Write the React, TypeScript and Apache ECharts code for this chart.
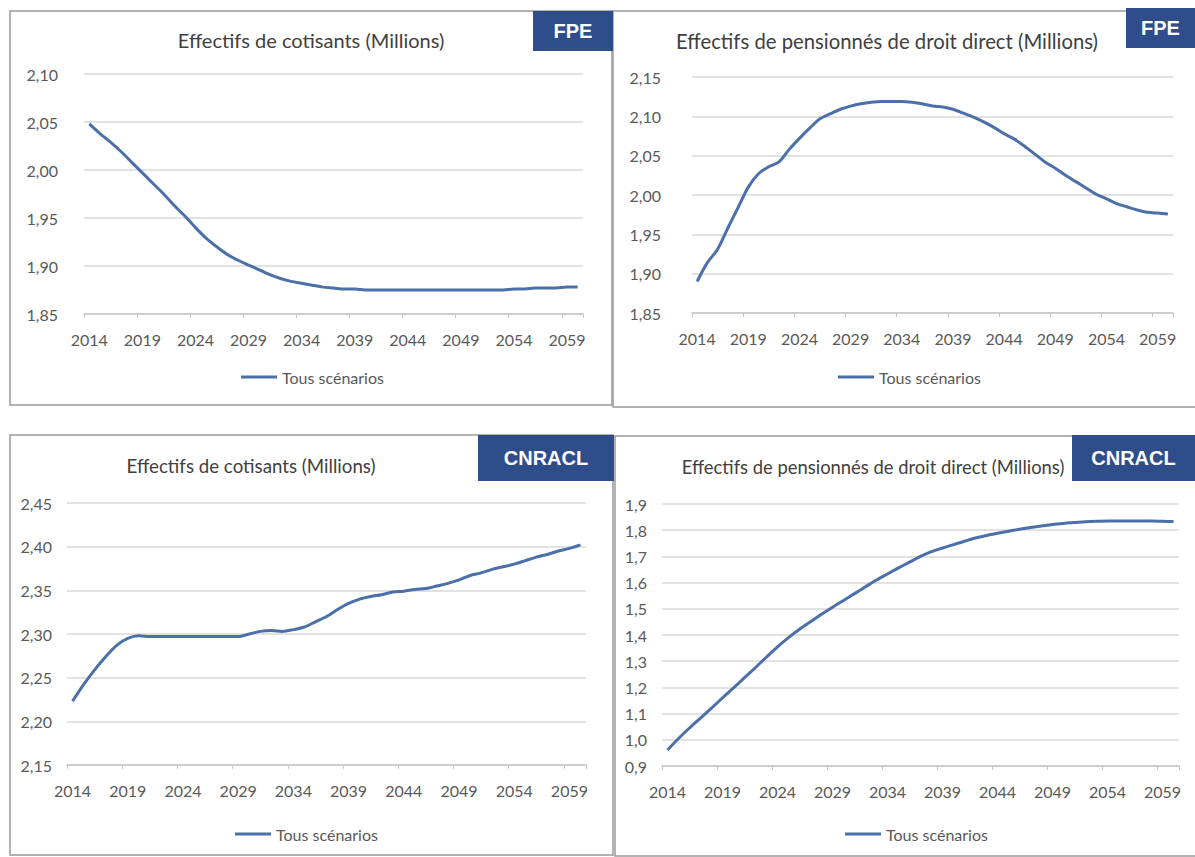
import { useEffect, useRef } from 'react';
import * as echarts from 'echarts';

const years: string[] = [
  '2014','2015','2016','2017','2018','2019','2020','2021','2022','2023',
  '2024','2025','2026','2027','2028','2029','2030','2031','2032','2033',
  '2034','2035','2036','2037','2038','2039','2040','2041','2042','2043',
  '2044','2045','2046','2047','2048','2049','2050','2051','2052','2053',
  '2054','2055','2056','2057','2058','2059','2060',
];

const seriesName = 'Tous scénarios';

const titles = [
  'Effectifs de cotisants (Millions)',
  'Effectifs de pensionnés de droit direct (Millions)',
  'Effectifs de cotisants (Millions)',
  'Effectifs de pensionnés de droit direct (Millions)',
];
const badges = ['FPE', 'FPE', 'CNRACL', 'CNRACL'];

// FPE – cotisants
const fpeCotisants: number[] = [
  2.048, 2.038, 2.029, 2.019, 2.008, 1.997, 1.986, 1.975, 1.963, 1.952,
  1.940, 1.929, 1.920, 1.912, 1.906, 1.901, 1.896, 1.891, 1.887, 1.884,
  1.882, 1.880, 1.878, 1.877, 1.876, 1.876, 1.875, 1.875, 1.875, 1.875,
  1.875, 1.875, 1.875, 1.875, 1.875, 1.875, 1.875, 1.875, 1.875, 1.875,
  1.876, 1.876, 1.877, 1.877, 1.877, 1.878, 1.878,
];

// FPE – pensionnés de droit direct
const fpePensionnes: number[] = [
  1.890, 1.914, 1.931, 1.958, 1.984, 2.010, 2.027, 2.036, 2.042, 2.058,
  2.072, 2.085, 2.097, 2.103, 2.109, 2.113, 2.116, 2.118, 2.119, 2.119,
  2.119, 2.118, 2.116, 2.113, 2.112, 2.109, 2.104, 2.099, 2.093, 2.086,
  2.078, 2.071, 2.062, 2.052, 2.042, 2.034, 2.025, 2.017, 2.009, 2.001,
  1.995, 1.989, 1.985, 1.981, 1.978, 1.977, 1.976,
];

// CNRACL – cotisants
const cnraclCotisants: number[] = [
  2.223, 2.242, 2.259, 2.274, 2.287, 2.295, 2.298, 2.297, 2.297, 2.297,
  2.297, 2.297, 2.297, 2.297, 2.297, 2.297, 2.300, 2.303, 2.304, 2.303,
  2.305, 2.308, 2.314, 2.320, 2.328, 2.335, 2.340, 2.343, 2.345, 2.348,
  2.349, 2.351, 2.352, 2.355, 2.358, 2.362, 2.367, 2.370, 2.374, 2.377,
  2.380, 2.384, 2.388, 2.391, 2.395, 2.398, 2.402,
];

// CNRACL – pensionnés de droit direct
const cnraclPensionnes: number[] = [
  0.961, 1.005, 1.045, 1.083, 1.121, 1.160, 1.198, 1.237, 1.276, 1.316,
  1.355, 1.390, 1.422, 1.451, 1.479, 1.506, 1.532, 1.558, 1.584, 1.610,
  1.633, 1.656, 1.678, 1.700, 1.718, 1.732, 1.745, 1.758, 1.770, 1.780,
  1.788, 1.796, 1.804, 1.810, 1.816, 1.822, 1.826, 1.829, 1.832, 1.834,
  1.835, 1.835, 1.835, 1.835, 1.835, 1.834, 1.833,
];

const yMin = [1.85, 1.85, 2.15, 0.9];
const yMax = [2.10, 2.15, 2.45, 1.9];
const yStep = [0.05, 0.05, 0.05, 0.1];
const yDecimals = [2, 2, 2, 1];

const FONT = 'Lato, "Open Sans", sans-serif';
const LINE_COLOR = '#4b6fa8';
const BADGE_COLOR = '#2f4d8a';

export default function App() {
  const ref = useRef<HTMLDivElement>(null);

  useEffect(() => {
    if (!ref.current) return;
    const chart = echarts.init(ref.current, undefined, { renderer: 'svg' });

    const grids = [
      { left: 84, top: 74, width: 499, height: 240 },
      { left: 692, top: 77, width: 481, height: 236 },
      { left: 67, top: 503, width: 519, height: 262 },
      { left: 662, top: 504, width: 517, height: 262 },
    ];
    const dataSets = [fpeCotisants, fpePensionnes, cnraclCotisants, cnraclPensionnes];
    const legendPos = [
      { left: 241, top: 369 },
      { left: 838, top: 369 },
      { left: 235, top: 826 },
      { left: 845, top: 826 },
    ];
    const panels = [
      { x: 10, y: 11, w: 602, h: 394 },
      { x: 613, y: 11, w: 600, h: 396 },
      { x: 10, y: 435, w: 603, h: 420 },
      { x: 615, y: 436, w: 600, h: 420 },
    ];
    const badgeBoxes = [
      { x: 533, y: 11, w: 80, h: 40, fs: 20 },
      { x: 1126, y: 8, w: 69, h: 40, fs: 20 },
      { x: 478, y: 435, w: 136, h: 46, fs: 20 },
      { x: 1072, y: 435, w: 123, h: 46, fs: 20 },
    ];
    const titlePos = [
      { x: 311, y: 40, fs: 20 },
      { x: 887, y: 41, fs: 20.3 },
      { x: 251, y: 466, fs: 18.7 },
      { x: 873, y: 467, fs: 18.4 },
    ];

    const graphic: any[] = [];
    panels.forEach((p) => {
      graphic.push({
        type: 'rect',
        shape: { x: p.x, y: p.y, width: p.w, height: p.h },
        style: { fill: 'none', stroke: '#9a9a9a', lineWidth: 1.5 },
        silent: true,
      });
    });
    titlePos.forEach((t, i) => {
      graphic.push({
        type: 'text',
        x: t.x,
        y: t.y,
        style: {
          text: titles[i],
          fill: '#404040',
          font: `${t.fs}px ${FONT}`,
          align: 'center',
          verticalAlign: 'middle',
          textAlign: 'center',
          textVerticalAlign: 'middle',
        },
        silent: true,
      });
    });
    badgeBoxes.forEach((b, i) => {
      graphic.push({
        type: 'rect',
        shape: { x: b.x, y: b.y, width: b.w, height: b.h },
        style: { fill: BADGE_COLOR },
        silent: true,
      });
      graphic.push({
        type: 'text',
        x: b.x + b.w / 2,
        y: b.y + b.h / 2,
        style: {
          text: badges[i],
          fill: '#ffffff',
          font: `bold ${b.fs}px "Liberation Sans", Arial, sans-serif`,
          align: 'center',
          verticalAlign: 'middle',
          textAlign: 'center',
          textVerticalAlign: 'middle',
        },
        silent: true,
      });
    });

    const option: any = {
      animation: false,
      backgroundColor: '#ffffff',
      grid: grids.map((g) => ({ ...g, containLabel: false })),
      xAxis: grids.map((_, i) => ({
        type: 'category',
        gridIndex: i,
        data: years,
        boundaryGap: true,
        axisLine: { show: true, lineStyle: { color: '#c6c6c6', width: 1.5 } },
        axisTick: { show: true, interval: 4, length: 4, inside: false, lineStyle: { color: '#c6c6c6' } },
        axisLabel: {
          interval: 4,
          margin: 17,
          color: '#595959',
          fontSize: 16,
          fontFamily: FONT,
        },
        splitLine: { show: false },
      })),
      yAxis: grids.map((_, i) => ({
        type: 'value',
        gridIndex: i,
        min: yMin[i],
        max: yMax[i],
        interval: yStep[i],
        axisLine: { show: false },
        axisTick: { show: false },
        axisLabel: {
          margin: i === 0 ? 26 : i === 1 ? 31 : 15,
          color: '#595959',
          fontSize: 16,
          fontFamily: FONT,
          formatter: (v: number) => v.toFixed(yDecimals[i]).replace('.', ','),
        },
        splitLine: { show: true, lineStyle: { color: '#d9d9d9', width: 1.5 } },
      })),
      legend: legendPos.map((l) => ({
        left: l.left,
        top: l.top,
        padding: 0,
        data: [{ name: seriesName, icon: 'rect' }],
        itemWidth: 36,
        itemHeight: 3,
        itemGap: 5,
        selectedMode: false,
        textStyle: { color: '#595959', fontSize: 16, fontFamily: FONT },
      })),
      series: dataSets.map((d, i) => ({
        name: seriesName,
        type: 'line',
        xAxisIndex: i,
        yAxisIndex: i,
        data: d,
        showSymbol: false,
        symbol: 'none',
        smooth: 0.3,
        lineStyle: { color: LINE_COLOR, width: 3 },
        itemStyle: { color: LINE_COLOR },
      })),
      graphic,
    };

    chart.setOption(option);
    return () => {
      chart.dispose();
    };
  }, []);

  return (
    <div
      ref={ref}
      style={{
        position: 'fixed',
        left: 0,
        top: 0,
        width: 1195,
        height: 857,
        background: '#ffffff',
      }}
    />
  );
}
